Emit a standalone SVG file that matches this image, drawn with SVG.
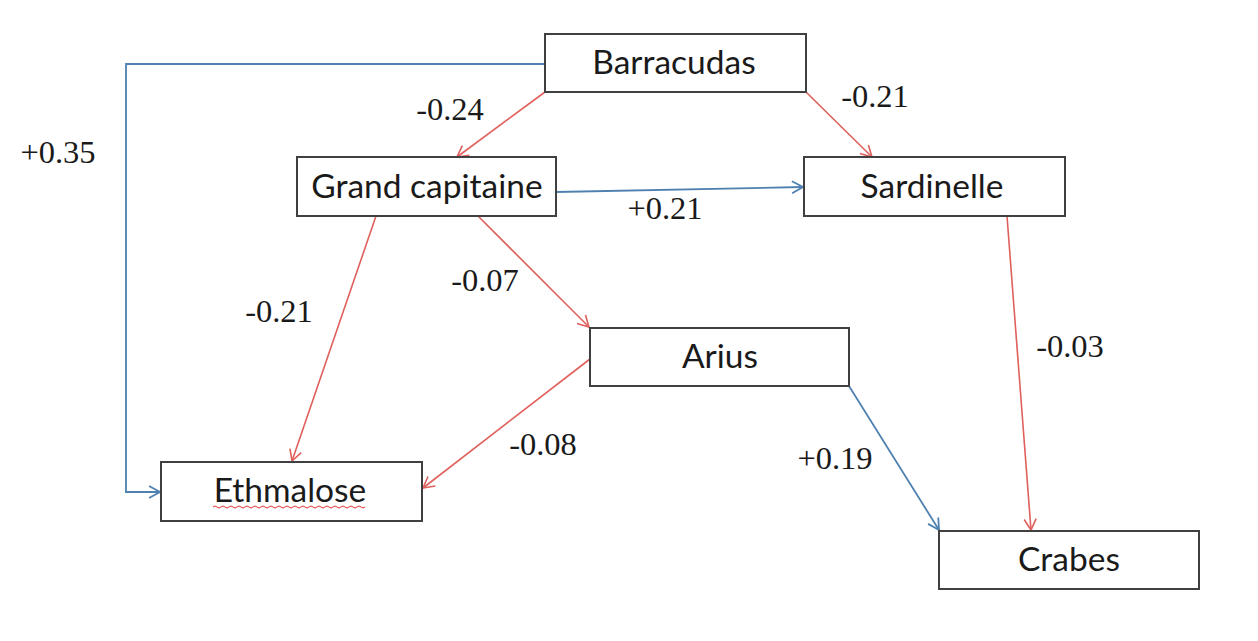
<svg xmlns="http://www.w3.org/2000/svg" width="1258" height="641" viewBox="0 0 1258 641">
  <defs>
    <style>
      .box { fill: #ffffff; stroke: #404040; stroke-width: 2; }
      .node { font-family: Lato, "Liberation Sans", sans-serif; font-size: 33.5px; fill: #1a1a1a; text-anchor: middle; }
      .lbl { font-family: "Liberation Serif", serif; font-size: 32.5px; fill: #1a1a1a; text-anchor: middle; }
      .red { fill: none; stroke: #e0605c; stroke-width: 1.6; }
      .blue { fill: none; stroke: #4f81b0; stroke-width: 1.8; }
    </style>
    <marker id="ar" markerUnits="userSpaceOnUse" markerWidth="16" markerHeight="16" viewBox="0 0 16 16" refX="14" refY="8" orient="auto">
      <path d="M3,2 L14,8 L3,14" fill="none" stroke="#e0605c" stroke-width="1.6"/>
    </marker>
    <marker id="ab" markerUnits="userSpaceOnUse" markerWidth="16" markerHeight="16" viewBox="0 0 16 16" refX="14" refY="8" orient="auto">
      <path d="M3,2 L14,8 L3,14" fill="none" stroke="#4f81b0" stroke-width="1.8"/>
    </marker>
  </defs>
  <rect width="1258" height="641" fill="#ffffff"/>

  <g id="connectors">
    <polyline class="blue" points="545,64 126,64 126,492 160,492" marker-end="url(#ab)"/>
    <line class="red" x1="545" y1="92" x2="457" y2="157" marker-end="url(#ar)"/>
    <line class="red" x1="806" y1="92" x2="872" y2="157" marker-end="url(#ar)"/>
    <line class="blue" x1="556" y1="192" x2="803" y2="187" marker-end="url(#ab)"/>
    <line class="red" x1="376" y1="216" x2="292" y2="461" marker-end="url(#ar)"/>
    <line class="red" x1="478" y1="216" x2="589" y2="327" marker-end="url(#ar)"/>
    <line class="red" x1="590" y1="359" x2="423" y2="488" marker-end="url(#ar)"/>
    <line class="blue" x1="849" y1="386" x2="939" y2="530" marker-end="url(#ab)"/>
    <line class="red" x1="1007" y1="216" x2="1031" y2="530" marker-end="url(#ar)"/>
  </g>

  <g id="labels">
    <text class="lbl" x="58" y="163">+0.35</text>
    <text class="lbl" x="450" y="120">-0.24</text>
    <text class="lbl" x="875" y="107">-0.21</text>
    <text class="lbl" x="665" y="219">+0.21</text>
    <text class="lbl" x="279" y="322">-0.21</text>
    <text class="lbl" x="485" y="291">-0.07</text>
    <text class="lbl" x="543" y="455">-0.08</text>
    <text class="lbl" x="835" y="469">+0.19</text>
    <text class="lbl" x="1070" y="357">-0.03</text>
  </g>

  <g id="barracudas">
    <rect class="box" x="545" y="34" width="261" height="58"/>
    <text class="node" x="674" y="74">Barracudas</text>
  </g>
  <g id="grand-capitaine">
    <rect class="box" x="297" y="157" width="259" height="59"/>
    <text class="node" x="427" y="198">Grand capitaine</text>
  </g>
  <g id="sardinelle">
    <rect class="box" x="804" y="157" width="261" height="59"/>
    <text class="node" x="932" y="198">Sardinelle</text>
  </g>
  <g id="arius">
    <rect class="box" x="590" y="328" width="259" height="58"/>
    <text class="node" x="720" y="368">Arius</text>
  </g>
  <g id="ethmalose">
    <rect class="box" x="161" y="462" width="261" height="59"/>
    <text class="node" x="290" y="502">Ethmalose</text>
    <path d="M213,507 q2,-2 4,0 t4,0 t4,0 t4,0 t4,0 t4,0 t4,0 t4,0 t4,0 t4,0 t4,0 t4,0 t4,0 t4,0 t4,0 t4,0 t4,0 t4,0 t4,0 t4,0 t4,0 t4,0 t4,0 t4,0 t4,0 t4,0 t4,0 t4,0 t4,0 t4,0 t4,0 t4,0 t4,0 t4,0 t4,0 t4,0 t4,0 t4,0" fill="none" stroke="#e03030" stroke-width="1"/>
  </g>
  <g id="crabes">
    <rect class="box" x="939" y="531" width="260" height="58"/>
    <text class="node" x="1069" y="571">Crabes</text>
  </g>
</svg>
